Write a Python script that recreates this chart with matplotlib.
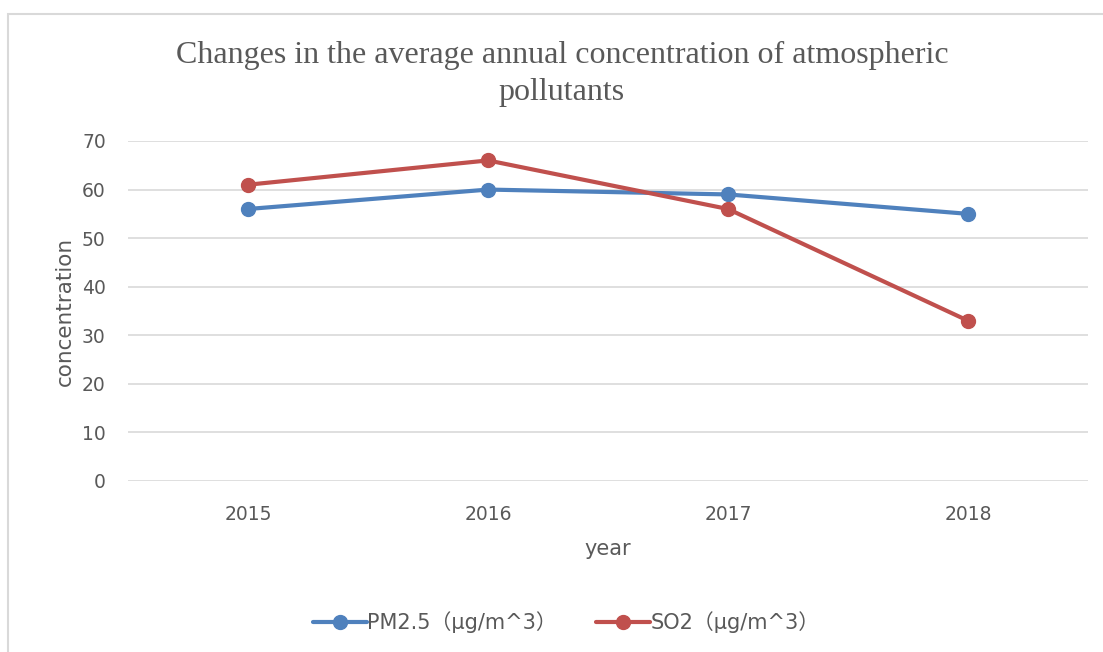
import matplotlib.pyplot as plt
from matplotlib.patches import Rectangle

years = ['2015', '2016', '2017', '2018']
pm25 = [56, 60, 59, 55]
so2 = [61, 66, 56, 33]
yticks = [0, 10, 20, 30, 40, 50, 60, 70]

W, H = 1103, 652
fig = plt.figure(figsize=(W / 100, H / 100), dpi=100)

# chart border (right and bottom edges are cropped off in the original)
fig.patches.append(Rectangle((8 / W, -0.1), 1.2, 1 - 14 / H + 0.1, transform=fig.transFigure,
                             fill=False, edgecolor='#D9D9D9', linewidth=1.5))

ax = fig.add_axes([128 / W, 1 - 481 / H, (1088 - 128) / W, (481 - 141) / H])
x = list(range(len(years)))
ax.plot(x, pm25, color='#4F81BD', linewidth=3, marker='o', markersize=10,
        label='PM2.5（μg/m^3）', solid_capstyle='round', zorder=3)
ax.plot(x, so2, color='#C0504D', linewidth=3, marker='o', markersize=10,
        label='SO2（μg/m^3）', solid_capstyle='round', zorder=3)

ax.set_xlim(-0.5, 3.5)
ax.set_ylim(0, 70)
ax.set_yticks(yticks)
ax.set_xticks(x)
ax.set_xticklabels(years)
ax.yaxis.grid(True, color='#D9D9D9', linewidth=1.2)
ax.set_axisbelow(True)
for s in ['top', 'right', 'left', 'bottom']:
    ax.spines[s].set_visible(False)
ax.tick_params(length=0, labelsize=13.5, colors='#595959')
ax.tick_params(axis='y', pad=16)
ax.tick_params(axis='x', pad=17)

ax.set_xlabel('year', fontsize=15, color='#595959', labelpad=11)
ax.set_ylabel('concentration', fontsize=15.5, color='#595959', labelpad=5)

fig.text(562 / W, 1 - 74 / H, 'Changes in the average annual concentration of atmospheric\npollutants',
         ha='center', va='center', fontsize=23, family='Liberation Serif', color='#595959',
         linespacing=1.32)

leg = fig.legend(loc='center', bbox_to_anchor=(566 / W, 1 - 622 / H), ncol=2, frameon=False,
                 prop={'family': ['DejaVu Sans', 'Noto Sans CJK SC'], 'size': 15},
                 handlelength=2.6, columnspacing=1.9, handletextpad=0.0)
for t in leg.get_texts():
    t.set_color('#595959')

fig.savefig('out.png', dpi=100)
